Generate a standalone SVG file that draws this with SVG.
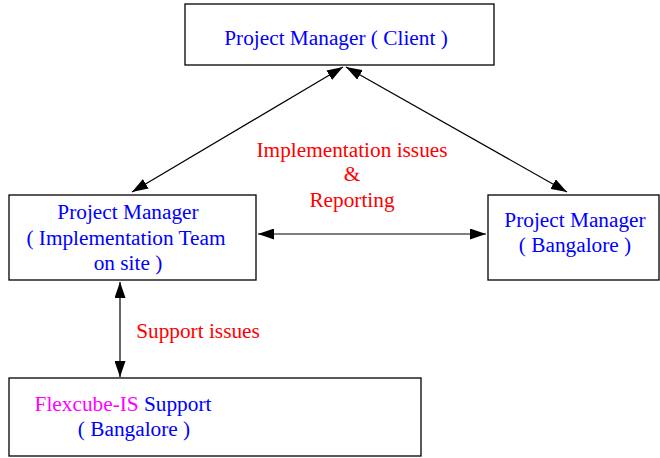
<svg xmlns="http://www.w3.org/2000/svg" width="660" height="458" viewBox="0 0 660 458">
<style>
.box{fill:#fff;stroke:#000;stroke-width:1.3}
.t{font-family:"Liberation Serif","Times New Roman",serif;font-size:21.3px;fill:#0000ff;text-anchor:middle}
.r{fill:#ff0000}
.m{fill:#ff00ff}
.c{stroke:#000;stroke-width:1.2;fill:none;marker-start:url(#ah);marker-end:url(#ah)}
</style>
<defs>
<marker id="ah" viewBox="0 0 16 11" refX="16" refY="5.5" markerWidth="16" markerHeight="11" markerUnits="userSpaceOnUse" orient="auto-start-reverse">
<path d="M0,0 L16,5.5 L0,11 Z" fill="#000"/>
</marker>
</defs>
<rect width="660" height="458" fill="#fff"/>
<g id="connectors">
<line class="c" x1="132" y1="192" x2="343" y2="67"/>
<line class="c" x1="346" y1="67" x2="567" y2="192"/>
<line class="c" x1="258" y1="234" x2="486" y2="234"/>
<line class="c" x1="120" y1="282" x2="120" y2="377"/>
<text class="t r" x="352" y="157">Implementation issues</text>
<text class="t r" x="352" y="181">&amp;</text>
<text class="t r" x="352" y="207">Reporting</text>
<text class="t r" x="198" y="338">Support issues</text>
</g>
<g id="client">
<rect class="box" x="185" y="4" width="309" height="61"/>
<text class="t" x="336" y="45">Project Manager ( Client )</text>
</g>
<g id="impl">
<rect class="box" x="9" y="195" width="247" height="85"/>
<text class="t" x="128" y="219">Project Manager</text>
<text class="t" x="126" y="245">( Implementation Team</text>
<text class="t" x="128" y="270">on site )</text>
</g>
<g id="bangalore">
<rect class="box" x="488" y="195" width="171" height="85"/>
<text class="t" x="575" y="227">Project Manager</text>
<text class="t" x="575" y="252">( Bangalore )</text>
</g>
<g id="flexcube">
<rect class="box" x="9" y="378" width="412" height="78"/>
<text class="t" x="123" y="411"><tspan class="m">Flexcube-IS</tspan> Support</text>
<text class="t" x="134" y="436">( Bangalore )</text>
</g>
</svg>
